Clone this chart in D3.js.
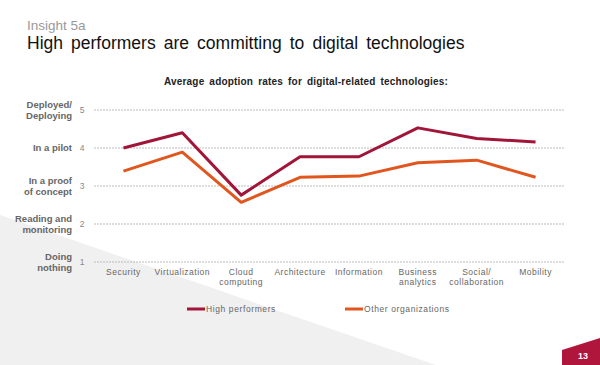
<!DOCTYPE html>
<html><head><meta charset="utf-8">
<script src="https://cdn.jsdelivr.net/npm/d3@7"></script>
<style>body{margin:0;background:#fff;}svg{display:block;font-family:Arial,"Liberation Sans",sans-serif;}</style>
</head><body>
<svg id="c" width="600" height="365"></svg>
<script>
const categories = ["Security","Virtualization","Cloud computing","Architecture","Information","Business analytics","Social/ collaboration","Mobility"];
const categoryLines = [["Security"],["Virtualization"],["Cloud","computing"],["Architecture"],["Information"],["Business","analytics"],["Social/","collaboration"],["Mobility"]];
const highPerformers = [4.0, 4.40, 2.76, 3.77, 3.77, 4.53, 4.25, 4.16];
const otherOrgs = [3.39, 3.89, 2.57, 3.23, 3.26, 3.61, 3.68, 3.23];
const yTicks = [1,2,3,4,5];
const yTickLabels = [["Doing","nothing"],["Reading and","monitoring"],["In a proof","of concept"],["In a pilot"],["Deployed/","Deploying"]];
const seriesNames = ["High performers","Other organizations"];
const colors = ["#a01538","#e0561e"];

const svg = d3.select("#c");
// background shape
svg.append("path").attr("d","M0,215 L436,365 L0,365 Z").attr("fill","#f0f0f0");
// page tab
svg.append("path").attr("d","M562,350 L600,338 L600,365 L562,365 Z").attr("fill","#b0163c");
svg.append("text").attr("x",583).attr("y",359).attr("text-anchor","middle").attr("font-size",9).attr("font-weight","bold").attr("fill","#fff").text("13");

svg.append("text").attr("x",27).attr("y",30).attr("font-size",13.5).attr("fill","#999").text("Insight 5a");
svg.append("text").attr("x",27).attr("y",49).attr("font-size",17.5).attr("fill","#111").attr("word-spacing",3.2).text("High performers are committing to digital technologies");
svg.append("text").attr("x",306).attr("y",85).attr("text-anchor","middle").attr("font-size",10).attr("font-weight","bold").attr("fill","#222").attr("letter-spacing",0.2).attr("word-spacing",2).text("Average adoption rates for digital-related technologies:");

const x = d3.scalePoint().domain(categories).range([94,565]).padding(0.5);
const y = d3.scaleLinear().domain([1,5]).range([262,110]);

// grid
const g = svg.append("g");
g.selectAll("line.grid").data(yTicks).join("line")
  .attr("x1",94).attr("x2",565).attr("y1",d=>y(d)).attr("y2",d=>y(d))
  .attr("stroke","#bbb").attr("stroke-width",1).attr("stroke-dasharray","2,1");
g.selectAll("text.tick").data(yTicks).join("text")
  .attr("x",82).attr("y",d=>y(d)+3).attr("text-anchor","middle").attr("font-size",8.5).attr("fill","#888").text(d=>d);
yTicks.forEach((t,i)=>{
  const lines = yTickLabels[i];
  const t0 = svg.append("text").attr("text-anchor","end").attr("font-size",9.5).attr("font-weight","bold").attr("fill","#666");
  const off = lines.length===1 ? 3 : -2;
  lines.forEach((l,j)=>t0.append("tspan").attr("x",72).attr("y",y(t)+off+j*10.5).text(l));
});
// category labels
categories.forEach((c,i)=>{
  const t0 = svg.append("text").attr("text-anchor","middle").attr("font-size",8.5).attr("fill","#666").attr("letter-spacing",0.5);
  categoryLines[i].forEach((l,j)=>t0.append("tspan").attr("x",x(c)).attr("y",275+j*10).text(l));
});

const line = d3.line().x((d,i)=>x(categories[i])).y(d=>y(d));
[otherOrgs, highPerformers].forEach((s,k)=>{
  svg.append("path").attr("d",line(s)).attr("fill","none").attr("stroke",colors[1-k]).attr("stroke-width",3).attr("stroke-linejoin","round");
});

// legend
const legX = [187,345];
seriesNames.forEach((n,i)=>{
  svg.append("line").attr("x1",legX[i]).attr("x2",legX[i]+18).attr("y1",309).attr("y2",309).attr("stroke",colors[i]).attr("stroke-width",3);
  svg.append("text").attr("x",legX[i]+19).attr("y",312).attr("font-size",8.5).attr("fill","#666").attr("letter-spacing",0.6).text(n);
});
</script>
</body></html>
